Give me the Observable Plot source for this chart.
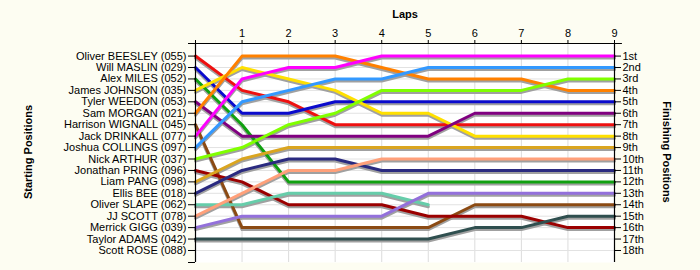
<!DOCTYPE html>
<html><head><meta charset="utf-8">
<script src="https://cdn.jsdelivr.net/npm/d3@7"></script>
<script src="https://cdn.jsdelivr.net/npm/@observablehq/plot@0.6"></script>
<style>
html,body{margin:0;padding:0;background:#fdfdf2;}
#chart svg{display:block;}
</style></head>
<body><div id="chart"></div>
<script>
// Drivers in starting order (grid positions 1..18)
const drivers = [
  "Oliver BEESLEY (055)","Will MASLIN (029)","Alex MILES (052)","James JOHNSON (035)",
  "Tyler WEEDON (053)","Sam MORGAN (021)","Harrison WIGNALL (045)","Jack DRINKALL (077)",
  "Joshua COLLINGS (097)","Nick ARTHUR (037)","Jonathan PRING (096)","Liam PANG (098)",
  "Ellis BEE (018)","Oliver SLAPE (062)","JJ SCOTT (078)","Merrick GIGG (039)",
  "Taylor ADAMS (042)","Scott ROSE (088)"
];
const driverColors = [
  "#ee1010","#0a0acc","#10a010","#ffe000",
  "#800080","#ff8000","#8b4a13","#ff00ff",
  "#3399ff","#80ff00","#9b0000","#daa520",
  "#2a2a80","#66cdaa","#ffa07a","#9370db",
  "#2f4f4f","#999999"
];
const laps = [0,1,2,3,4,5,6,7,8,9];
const finishLabels = ["1st","2nd","3rd","4th","5th","6th","7th","8th","9th","10th",
  "11th","12th","13th","14th","15th","16th","17th","18th"];
// Position of each driver at laps 0..9 (null = not running)
const positionsByLap = [
  [1,4,5,7,7,7,7,7,7,7],
  [2,6,6,5,5,5,5,5,5,5],
  [3,7,12,12,12,12,12,12,12,12],
  [4,2,3,4,6,6,8,8,8,8],
  [5,8,8,8,8,8,6,6,6,6],
  [6,1,1,1,2,3,3,3,4,4],
  [7,16,16,16,16,16,14,14,14,14],
  [8,3,2,2,1,1,1,1,1,1],
  [9,5,4,3,3,2,2,2,2,2],
  [10,9,7,6,4,4,4,4,3,3],
  [11,12,14,14,14,15,15,15,16,16],
  [12,10,9,9,9,9,9,9,9,9],
  [13,11,10,10,11,11,11,11,11,11],
  [14,14,13,13,13,14,null,null,null,null],
  [15,13,11,11,10,10,10,10,10,10],
  [16,15,15,15,15,13,13,13,13,13],
  [17,17,17,17,17,17,16,16,15,15],
  [null,null,null,null,null,null,null,null,null,null]
];

const rows = [];
positionsByLap.forEach((ps, i) => {
  ps.forEach((p, j) => { if (p != null) rows.push({driver: drivers[i], lap: laps[j], pos: p}); });
});
const posTicks = d3.range(1, 19);

const plot = Plot.plot({
  width: 700, height: 270,
  marginLeft: 195, marginRight: 86, marginTop: 43, marginBottom: 8,
  style: {background: "transparent", fontFamily: "'Liberation Sans', Arial, sans-serif", fontSize: "11px", color: "#000"},
  x: {type: "linear", domain: [0, 9], axis: null},
  y: {type: "linear", domain: [19.05, -0.1], axis: null},
  color: {domain: drivers, range: driverColors},
  marks: [
    Plot.frame({fill: "white", stroke: null}),
    Plot.gridX(laps.slice(1, 9), {stroke: "#dcdcdc", strokeOpacity: 1}),
    Plot.gridY(posTicks, {stroke: "#e2e2e2", strokeOpacity: 1}),
    Plot.line(rows, {x: "lap", y: "pos", z: "driver", stroke: "#a0a0a0", strokeWidth: 3, dy: 2, strokeLinejoin: "round"}),
    Plot.line(rows, {x: "lap", y: "pos", z: "driver", stroke: "driver", strokeWidth: 3, strokeLinejoin: "round"}),
    Plot.axisX(laps, {anchor: "top", tickSize: 4, tickPadding: 3, label: null, tickFormat: d => d === 0 ? "" : String(d), stroke: "#000", fill: "#000"}),
    Plot.axisY(posTicks, {anchor: "left", tickSize: 7, tickPadding: 2, label: null, tickFormat: p => drivers[p - 1], fill: "#000"}),
    Plot.axisY(posTicks, {anchor: "right", tickSize: 6, tickPadding: 2, label: null, tickFormat: p => finishLabels[p - 1], fill: "#000"}),
    Plot.ruleX([0, 9], {y1: -0.1, y2: 19.05, stroke: "#000", strokeWidth: 1.2}),
    Plot.ruleY([-0.1], {x1: 0, x2: 9.17, stroke: "#000", strokeWidth: 1.2}),
    Plot.ruleY([-0.1, 19.05], {x1: -0.15, x2: 0, stroke: "#000", strokeWidth: 1})
  ]
});

const svg = d3.select(plot);
svg.append("text").attr("x", 405).attr("y", 14).attr("dy", "0.35em")
  .attr("text-anchor", "middle").attr("font-weight", "bold").attr("font-size", 11).attr("fill", "#000").text("Laps");
svg.append("text").attr("transform", "translate(28,152) rotate(-90)").attr("dy", "0.35em")
  .attr("text-anchor", "middle").attr("font-weight", "bold").attr("font-size", 11).attr("fill", "#000").text("Starting Positions");
svg.append("text").attr("transform", "translate(667,152) rotate(90)").attr("dy", "0.35em")
  .attr("text-anchor", "middle").attr("font-weight", "bold").attr("font-size", 11).attr("fill", "#000").text("Finishing Positions");

document.getElementById("chart").appendChild(plot);
</script>
</body></html>
